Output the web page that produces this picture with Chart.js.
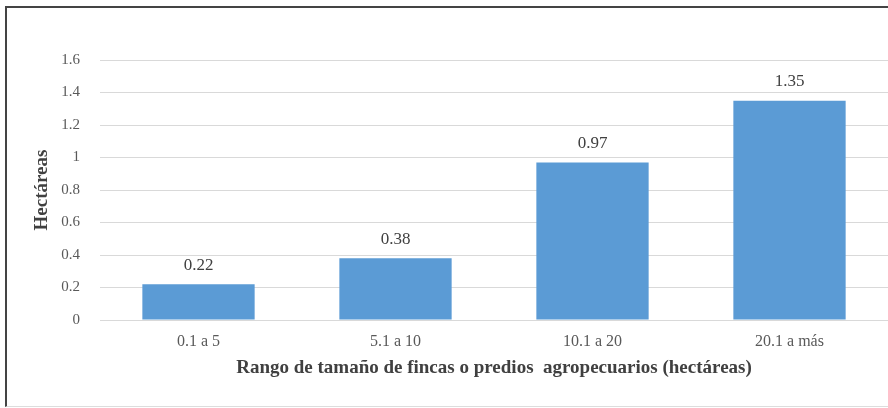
<!DOCTYPE html>
<html>
<head>
<meta charset="utf-8">
<script src="https://cdn.jsdelivr.net/npm/chart.js@4"></script>
<style>
    html, body { margin: 0; padding: 0; background: #fff; }
    #wrap { position: relative; width: 888px; height: 408px; }
    #frame {
        position: absolute; left: 5px; top: 6px; width: 890px; height: 398px;
        border-left: 2px solid #444; border-top: 2px solid #444; border-bottom: 1px solid #ddd;
        pointer-events: none;
    }
</style>
</head>
<body>
<div id="wrap">
    <canvas id="myChart" width="888" height="408"></canvas>
    <div id="frame"></div>
</div>
<script>
// data
const categories = ['0.1 a 5', '5.1 a 10', '10.1 a 20', '20.1 a más'];
const hectareas = [0.22, 0.38, 0.97, 1.35];
const yTicks = [0, 0.2, 0.4, 0.6, 0.8, 1, 1.2, 1.4, 1.6];

const serif = "'Liberation Serif', 'Times New Roman', serif";

//
// value labels above bars
//
const barLabels = {
    id: 'barLabels',
    afterDatasetsDraw(chart) {
        const ctx = chart.ctx;
        const meta = chart.getDatasetMeta(0);
        ctx.save();
        ctx.font = '17px ' + serif;
        ctx.fillStyle = '#404040';
        ctx.textAlign = 'center';
        ctx.textBaseline = 'middle';
        meta.data.forEach((bar, i) => {
            ctx.fillText(String(hectareas[i]), bar.x, bar.y - 19);
        });
        ctx.restore();
    }
};

var myChart = new Chart(document.getElementById('myChart').getContext('2d'), {
    type: 'bar',
    data: {
        labels: categories,
        datasets: [{
            data: hectareas,
            backgroundColor: '#5b9bd5',
            borderWidth: 0,
            categoryPercentage: 1,
            barPercentage: 0.57,
        }]
    },
    plugins: [barLabels],
    options: {
        responsive: false,
        animation: false,
        layout: {
            padding: { left: 0, right: 0, top: 60, bottom: 0 }
        },
        plugins: {
            legend: { display: false },
            tooltip: { enabled: false },
        },
        scales: {
            x: {
                grid: { display: false },
                border: { display: false },
                ticks: {
                    color: '#595959',
                    font: { family: serif, size: 16 },
                    padding: 4,
                },
                title: {
                    display: true,
                    text: 'Rango de tamaño de fincas o predios  agropecuarios (hectáreas)',
                    color: '#404040',
                    font: { family: serif, size: 19, weight: 'bold' },
                    padding: { top: 0, bottom: 29 },
                },
                afterFit(scale) { scale.height = 88; },
            },
            y: {
                min: 0,
                max: 1.6,
                afterBuildTicks(scale) {
                    scale.ticks = yTicks.map(v => ({ value: v }));
                },
                grid: { color: '#d9d9d9', drawTicks: false, lineWidth: 1 },
                border: { display: false },
                ticks: {
                    color: '#595959',
                    font: { family: serif, size: 15 },
                    padding: 20,
                    callback: v => String(Math.round(v * 10) / 10),
                },
                title: {
                    display: true,
                    text: 'Hectáreas',
                    color: '#404040',
                    font: { family: serif, size: 19, weight: 'bold' },
                    padding: { top: 31, bottom: 0 },
                },
                afterFit(scale) { scale.width = 100; },
            }
        }
    }
});
</script>
</body>
</html>
